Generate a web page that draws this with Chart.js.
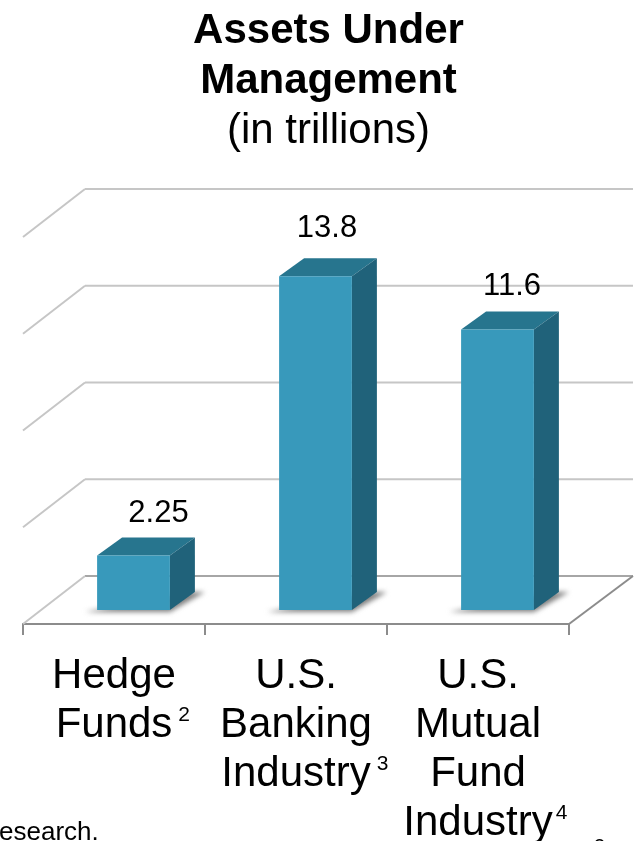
<!DOCTYPE html>
<html>
<head>
<meta charset="utf-8">
<title>Assets Under Management</title>
<script src="https://cdn.jsdelivr.net/npm/chart.js@4"></script>
<style>
  body { margin: 0; background: #fff; overflow: hidden; }
  canvas { display: block; }
</style>
</head>
<body>
<canvas id="bar-chart" width="638" height="841"></canvas>
<script>
var categories = [["Hedge", "Funds"], ["U.S.", "Banking", "Industry"], ["U.S.", "Mutual", "Fund", "Industry"]];
var footnotes = ["2", "3", "4"];
var assets = [2.25, 13.8, 11.6];
var valueLabels = ["2.25", "13.8", "11.6"];
var gridValues = [0, 4, 8, 12, 16];

var FONT = '"Liberation Sans", Arial, sans-serif';

// how far the back wall and the bars sit behind the front edge of the floor
var wallDx = 62, wallDy = -48;
var barDx = 19.5, barDy = -14;
var sideDx = 25, sideDy = -18;

function line(ctx, x1, y1, x2, y2, color) {
  ctx.strokeStyle = color;
  ctx.lineWidth = 2;
  ctx.beginPath();
  ctx.moveTo(x1, y1);
  ctx.lineTo(x2, y2);
  ctx.stroke();
}

function poly(ctx, pts, color) {
  ctx.fillStyle = color;
  ctx.beginPath();
  ctx.moveTo(pts[0][0], pts[0][1]);
  for (var i = 1; i < pts.length; i++) ctx.lineTo(pts[i][0], pts[i][1]);
  ctx.closePath();
  ctx.fill();
}

var box3d = {
  id: "box3d",
  beforeDatasetsDraw: function (chart) {
    var ctx = chart.ctx;
    var area = chart.chartArea;
    var y = chart.scales.y;
    var bars = chart.getDatasetMeta(0).data;

    // wall lines, the zero one is the back edge of the floor
    for (var i = 0; i < gridValues.length; i++) {
      var py = y.getPixelForValue(gridValues[i]);
      if (gridValues[i] === 0) continue;
      line(ctx, area.left, py, area.left + wallDx, py + wallDy, "#c6c6c6");
      line(ctx, area.left + wallDx, py + wallDy, area.right + wallDx + 2, py + wallDy, "#c6c6c6");
    }
    var y0 = y.getPixelForValue(0);
    line(ctx, area.left + wallDx, y0 + wallDy, area.right + wallDx + 2, y0 + wallDy, "#a6a6a6");
    line(ctx, area.left, y0, area.left + wallDx, y0 + wallDy, "#c6c6c6");
    line(ctx, area.right, y0, area.right + wallDx + 2, y0 + wallDy, "#8c8c8c");

    ctx.save();
    ctx.translate(barDx, barDy);

    // soft shadow lying on the floor
    bars.forEach(function (b) {
      var l = b.x - b.width / 2, r = b.x + b.width / 2, by = b.base;
      ctx.save();
      ctx.filter = "blur(2.5px)";
      poly(ctx, [[l - 12, by + 2], [r, by + 2], [r + 35, by - 18], [r + 18, by - 18]], "#808080");
      ctx.restore();
    });

    // top and side faces, the library draws the front
    bars.forEach(function (b) {
      var l = b.x - b.width / 2, r = b.x + b.width / 2;
      poly(ctx, [[l, b.y], [l + sideDx, b.y + sideDy], [r + sideDx, b.y + sideDy], [r, b.y]], "#27758E");
      poly(ctx, [[r, b.y], [r + sideDx, b.y + sideDy], [r + sideDx, b.base + sideDy], [r, b.base]], "#20627A");
    });
  },
  afterDatasetsDraw: function (chart) {
    var ctx = chart.ctx;
    var bars = chart.getDatasetMeta(0).data;
    ctx.restore();

    var labelDx = [25, 11.5, 14.5];
    var labelLift = [34, 39, 34];
    ctx.fillStyle = "#000";
    ctx.textAlign = "center";
    ctx.textBaseline = "alphabetic";
    ctx.font = "31px " + FONT;
    bars.forEach(function (b, i) {
      ctx.fillText(valueLabels[i], b.x + barDx + labelDx[i], b.y + barDy - labelLift[i]);
    });

    // footnote marks after the last line of each category
    var x = chart.scales.x;
    var lastBase = 690;
    ctx.textAlign = "left";
    categories.forEach(function (lines, i) {
      var last = lines[lines.length - 1];
      ctx.font = "42px " + FONT;
      var w = ctx.measureText(last).width;
      ctx.font = "21px " + FONT;
      var gap = i === 2 ? 3 : 6;
      ctx.fillText(footnotes[i], x.getPixelForTick(i) + w / 2 + gap, lastBase + (lines.length - 1) * 49 - 18);
    });

    // cut-off line of the page text and the page number under the chart
    ctx.font = "26px " + FONT;
    ctx.fillText("esearch.", -1, 840);
    ctx.font = "20px " + FONT;
    ctx.fillText("3", 594, 853);
  }
};

var barChart = new Chart(document.getElementById("bar-chart"), {
  type: "bar",
  data: {
    labels: categories,
    datasets: [{
      data: assets,
      backgroundColor: "#3899BB",
      barPercentage: 0.4,
      categoryPercentage: 1
    }]
  },
  plugins: [box3d],
  options: {
    responsive: false,
    animation: false,
    layout: { padding: { left: 23, right: 4, top: 0, bottom: 0 } },
    plugins: {
      legend: { display: false },
      tooltip: { enabled: false },
      title: {
        display: true,
        text: ["Assets Under", "Management"],
        color: "#000",
        font: { family: FONT, size: 42, weight: "bold", lineHeight: 1.19 },
        padding: { top: 6, bottom: 0 }
      },
      subtitle: {
        display: true,
        text: "(in trillions)",
        color: "#000",
        font: { family: FONT, size: 42, lineHeight: 1.19 },
        padding: { top: 0, bottom: 81 }
      }
    },
    scales: {
      x: {
        grid: { drawOnChartArea: false, drawTicks: true, tickLength: 11, color: "#8c8c8c", lineWidth: 2 },
        border: { color: "#8c8c8c", width: 2 },
        ticks: {
          color: "#000",
          font: { family: FONT, size: 42, lineHeight: 49 / 42 },
          maxRotation: 0,
          autoSkip: false,
          padding: 17
        },
        afterFit: function (axis) { axis.height = 217; }
      },
      y: {
        position: "right",
        min: 0,
        max: 16,
        ticks: { display: false, stepSize: 4 },
        grid: { display: false },
        border: { display: false },
        afterFit: function (axis) { axis.width = 65; }
      }
    }
  }
});
</script>
</body>
</html>
